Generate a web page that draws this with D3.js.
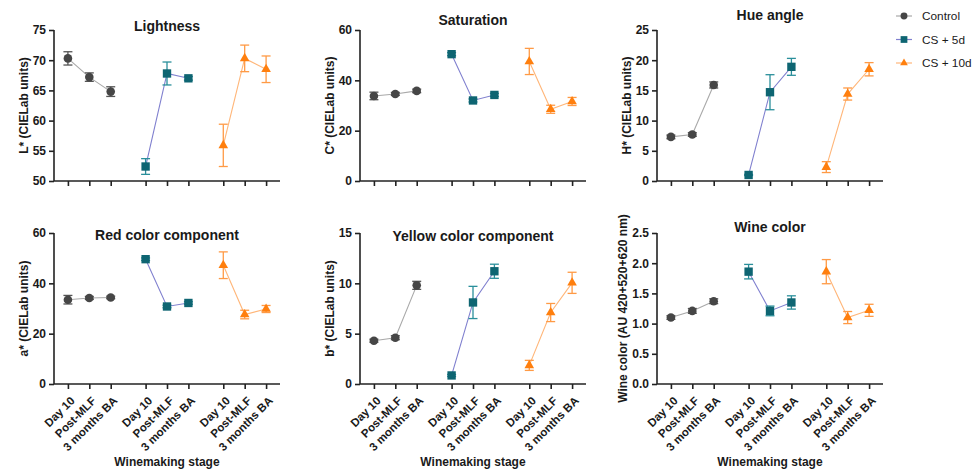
<!DOCTYPE html>
<html>
<head>
<meta charset="utf-8">
<script src="https://cdn.jsdelivr.net/npm/d3@7"></script>
<style>
  body { margin: 0; background: #fff; }
  svg { font-family: "Liberation Sans", Arial, sans-serif; }
  .tick text { font-weight: bold; font-size: 12px; fill: #1a1a1a; }
  .xlab .tick text { font-size: 11.5px; }
  .title { font-weight: bold; font-size: 14px; fill: #1a1a1a; }
  .axis-label { font-weight: bold; font-size: 12px; fill: #1a1a1a; }
  .legend-text { font-size: 11.8px; fill: #1a1a1a; }
</style>
</head>
<body>
<div id="chart"></div>
<script>
// Data (mean, error bar half-length), rows = treatment, cols = stage
const stages = ["Day 10", "Post-MLF", "3 months BA"];
const treatments = ["Control", "CS + 5d", "CS + 10d"];

const lightnessMean = [[70.3, 67.2, 64.8], [52.4, 67.8, 67.0], [55.9, 70.3, 68.5]];
const lightnessSd = [[1.1, 0.7, 0.8], [1.3, 1.9, 0.3], [3.5, 2.2, 2.2]];
const saturationMean = [[33.8, 34.6, 35.8], [50.4, 32.0, 34.2], [47.5, 28.5, 31.6]];
const saturationSd = [[1.5, 0.6, 0.7], [0.6, 0.6, 0.6], [5.2, 1.6, 1.6]];
const hueMean = [[7.3, 7.7, 15.9], [1.0, 14.7, 18.9], [2.3, 14.4, 18.5]];
const hueSd = [[0.3, 0.3, 0.5], [0.1, 2.9, 1.4], [0.9, 1.0, 1.1]];
const redMean = [[33.5, 34.2, 34.4], [49.6, 30.8, 32.2], [47.2, 27.6, 29.8]];
const redSd = [[1.7, 0.6, 0.5], [0.5, 0.5, 0.5], [5.3, 1.7, 1.4]];
const yellowMean = [[4.3, 4.6, 9.8], [0.85, 8.1, 11.2], [1.85, 7.1, 10.05]];
const yellowSd = [[0.15, 0.2, 0.4], [0.1, 1.6, 0.7], [0.5, 0.9, 1.05]];
const wineMean = [[1.10, 1.21, 1.37], [1.86, 1.21, 1.35], [1.86, 1.10, 1.22]];
const wineSd = [[0.03, 0.04, 0.04], [0.12, 0.08, 0.11], [0.20, 0.10, 0.10]];

const lightnessTicks = [50, 55, 60, 65, 70, 75];
const saturationTicks = [0, 20, 40, 60];
const hueTicks = [0, 5, 10, 15, 20, 25];
const redTicks = [0, 20, 40, 60];
const yellowTicks = [0, 5, 10, 15];
const wineTicks = [0, 0.5, 1.0, 1.5, 2.0, 2.5];

const width = 974, height = 474;
const plotW = 226, plotH = 151;
const colLeft = [54, 360, 657];
const rowTop = [30, 233];

const markerFill = ["#464646", "#0e6572", "#ff7f0e"];
const lineColor = ["#a9a9a9", "#8080cf", "#ffb679"];
const errColor = ["#555555", "#2a8f9b", "#ff9a45"];
const symbols = [d3.symbolCircle, d3.symbolSquare, d3.symbolTriangle];
const symbolSize = [58, 70, 40];

const panels = [
  { title: "Lightness", ylab: "L* (CIELab units)", mean: lightnessMean, sd: lightnessSd, ticks: lightnessTicks, fmt: d3.format("d"), col: 0, row: 0, titleY: 31 },
  { title: "Saturation", ylab: "C* (CIELab units)", mean: saturationMean, sd: saturationSd, ticks: saturationTicks, fmt: d3.format("d"), col: 1, row: 0, titleY: 25 },
  { title: "Hue angle", ylab: "H* (CIELab units)", mean: hueMean, sd: hueSd, ticks: hueTicks, fmt: d3.format("d"), col: 2, row: 0, titleY: 20 },
  { title: "Red color component", ylab: "a* (CIELab units)", mean: redMean, sd: redSd, ticks: redTicks, fmt: d3.format("d"), col: 0, row: 1, titleY: 240 },
  { title: "Yellow color component", ylab: "b* (CIELab units)", mean: yellowMean, sd: yellowSd, ticks: yellowTicks, fmt: d3.format("d"), col: 1, row: 1, titleY: 241 },
  { title: "Wine color", ylab: "Wine color (AU 420+520+620 nm)", mean: wineMean, sd: wineSd, ticks: wineTicks, fmt: d3.format(".1f"), col: 2, row: 1, titleY: 232 }
];

const svg = d3.select("#chart").append("svg")
  .attr("width", width)
  .attr("height", height);

// x position: treatment groups separated by a gap, stages one unit apart
const groupStep = 3.63;
const xScale = d3.scaleLinear().domain([-0.65, 2 * groupStep + 2 + 0.65]).range([0, plotW]);
const xPos = (g, s) => xScale(g * groupStep + s);
const xTickVals = [];
treatments.forEach((t, g) => stages.forEach((s, i) => xTickVals.push(g * groupStep + i)));

panels.forEach(p => {
  const left = colLeft[p.col], top = rowTop[p.row];
  const g = svg.append("g").attr("transform", `translate(${left},${top})`);
  const y = d3.scaleLinear().domain(d3.extent(p.ticks)).range([plotH, 0]);

  // series lines
  treatments.forEach((t, ti) => {
    const line = d3.line().x((d, si) => xPos(ti, si)).y(d => y(d));
    g.append("path")
      .datum(p.mean[ti])
      .attr("d", line)
      .attr("fill", "none")
      .attr("stroke", lineColor[ti])
      .attr("stroke-width", 1.1);
  });

  // error bars
  treatments.forEach((t, ti) => {
    p.mean[ti].forEach((m, si) => {
      const x = xPos(ti, si);
      const lo = y(m - p.sd[ti][si]), hi = y(m + p.sd[ti][si]);
      const eg = g.append("g").attr("stroke", errColor[ti]).attr("stroke-width", 1.3);
      eg.append("line").attr("x1", x).attr("x2", x).attr("y1", lo).attr("y2", hi);
      eg.append("line").attr("x1", x - 4.5).attr("x2", x + 4.5).attr("y1", lo).attr("y2", lo);
      eg.append("line").attr("x1", x - 4.5).attr("x2", x + 4.5).attr("y1", hi).attr("y2", hi);
    });
  });

  // markers
  treatments.forEach((t, ti) => {
    g.selectAll(null)
      .data(p.mean[ti])
      .join("path")
      .attr("transform", (d, si) => `translate(${xPos(ti, si)},${y(d)})`)
      .attr("d", d3.symbol().type(symbols[ti]).size(symbolSize[ti]))
      .attr("fill", markerFill[ti]);
  });

  // y axis
  const yAxis = g.append("g")
    .call(d3.axisLeft(y).tickValues(p.ticks).tickFormat(p.fmt).tickSize(5).tickPadding(3));
  yAxis.select(".domain").attr("stroke", "#222").attr("stroke-width", 1.6).attr("d", `M0,0V${plotH}`);
  yAxis.selectAll(".tick line").attr("stroke", "#222").attr("stroke-width", 1.6);

  // x axis
  const xAxis = g.append("g")
    .attr("class", "xlab")
    .attr("transform", `translate(0,${plotH})`)
    .call(d3.axisBottom(xScale).tickValues(xTickVals).tickSize(5)
      .tickFormat((d, i) => p.row === 1 ? stages[i % 3] : ""));
  xAxis.select(".domain").attr("stroke", "#222").attr("stroke-width", 1.6).attr("d", `M0,0H${plotW}`);
  xAxis.selectAll(".tick line").attr("stroke", "#222").attr("stroke-width", 1.6);
  xAxis.selectAll(".tick text")
    .attr("text-anchor", "end")
    .attr("x", 0).attr("y", 0).attr("dy", 0)
    .attr("transform", "translate(7,17.5) rotate(-45)");

  // title
  svg.append("text")
    .attr("class", "title")
    .attr("x", left + plotW / 2)
    .attr("y", p.titleY)
    .attr("text-anchor", "middle")
    .text(p.title);

  // y-axis label, placed left of tick labels
  const bb = yAxis.node().getBBox();
  svg.append("text")
    .attr("class", "axis-label")
    .attr("text-anchor", "middle")
    .attr("transform", `translate(${left + bb.x - 5},${top + plotH / 2}) rotate(-90)`)
    .text(p.ylab);

  if (p.row === 1) {
    svg.append("text")
      .attr("class", "axis-label")
      .attr("x", left + plotW / 2)
      .attr("y", 466)
      .attr("text-anchor", "middle")
      .text("Winemaking stage");
  }
});

// legend
const legend = svg.append("g").attr("transform", "translate(904,16)");
treatments.forEach((t, i) => {
  const lg = legend.append("g").attr("transform", `translate(0,${i * 23.5})`);
  lg.append("line")
    .attr("x1", -8).attr("x2", 8)
    .attr("stroke", lineColor[i]).attr("stroke-width", 1.2);
  lg.append("path")
    .attr("d", d3.symbol().type(symbols[i]).size(symbolSize[i] * 0.65))
    .attr("fill", markerFill[i]);
  lg.append("text")
    .attr("class", "legend-text")
    .attr("x", 18)
    .attr("dy", "0.35em")
    .text(t);
});
</script>
</body>
</html>
